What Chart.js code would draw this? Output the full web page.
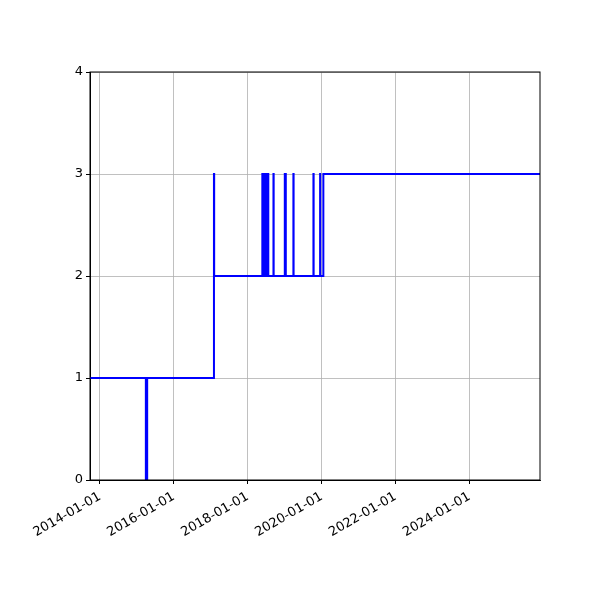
<!DOCTYPE html>
<html>
<head>
<meta charset="utf-8">
<script src="https://cdn.jsdelivr.net/npm/chart.js@4"></script>
<style>
  html, body { margin: 0; padding: 0; background: #fff; }
  #wrap { width: 600px; height: 600px; }
</style>
</head>
<body>
<div id="wrap"><canvas id="myChart" width="600" height="600"></canvas></div>
<script>
"use strict";

// dates where the level changes, and the level from that date on
const changeDates = [
    '2013-09-25', '2015-03-31', '2015-04-13',
    '2017-02-01', '2017-02-03',
    '2018-05-25', '2018-06-05', '2018-06-07', '2018-06-19', '2018-06-21', '2018-07-03', '2018-07-05', '2018-07-23',
    '2018-09-12', '2018-09-14',
    '2019-01-02', '2019-01-04', '2019-01-11', '2019-01-12',
    '2019-03-28', '2019-03-30',
    '2019-10-12', '2019-10-14',
    '2019-12-17', '2019-12-18', '2020-01-18',
    '2025-11-28'
];
const levels = [
    1, 0, 1,
    3, 2,
    3, 2, 3, 2, 3, 2, 3, 2,
    3, 2,
    3, 2, 3, 2,
    3, 2,
    3, 2,
    3, 2, 3,
    3
];
const tickYears = [2014, 2016, 2018, 2020, 2022, 2024];
const yTicks = [0, 1, 2, 3, 4];

function toMs(d) {
    const p = d.split('-');
    return Date.UTC(+p[0], +p[1] - 1, +p[2]);
}

const points = changeDates.map((d, i) => ({ x: toMs(d), y: levels[i] }));

const frame = {
    id: 'frame',
    afterDraw(chart) {
        const a = chart.chartArea;
        const ctx = chart.ctx;
        ctx.save();
        ctx.strokeStyle = '#000';
        ctx.lineWidth = 1;
        ctx.strokeRect(a.left, a.top, a.right - a.left, a.bottom - a.top);
        ctx.restore();
    }
};

const font = { family: 'DejaVu Sans', size: 13 };

const ctx = document.getElementById('myChart').getContext('2d');
const myChart = new Chart(ctx, {
    type: 'line',
    data: {
        datasets: [{
            data: points,
            stepped: 'before',
            borderColor: '#0000ff',
            borderWidth: 2,
            pointRadius: 0,
            fill: false
        }]
    },
    options: {
        responsive: false,
        animation: false,
        layout: { padding: { top: 72, right: 60, left: 0, bottom: 0 } },
        plugins: { legend: { display: false }, tooltip: { enabled: false } },
        scales: {
            x: {
                type: 'linear',
                min: toMs(changeDates[0]),
                max: toMs(changeDates[changeDates.length - 1]),
                afterBuildTicks(scale) {
                    scale.ticks = tickYears.map(y => ({ value: Date.UTC(y, 0, 1) }));
                },
                afterFit(scale) { scale.height = 120; },
                grid: { color: '#b0b0b0', lineWidth: 0.8, tickColor: '#000', tickLength: 4, tickWidth: 1 },
                border: { color: '#000', width: 1 },
                ticks: {
                    color: '#000',
                    font: font,
                    autoSkip: false,
                    minRotation: 30,
                    maxRotation: 30,
                    padding: 5,
                    callback: (v) => new Date(v).getUTCFullYear() + '-01-01'
                }
            },
            y: {
                min: 0,
                max: 4,
                afterBuildTicks(scale) {
                    scale.ticks = yTicks.map(v => ({ value: v }));
                },
                afterFit(scale) { scale.width = 90; },
                grid: { color: '#b0b0b0', lineWidth: 0.8, tickColor: '#000', tickLength: 4, tickWidth: 1 },
                border: { color: '#000', width: 1 },
                ticks: { color: '#000', font: font, padding: 3 }
            }
        }
    },
    plugins: [frame]
});
</script>
</body>
</html>
